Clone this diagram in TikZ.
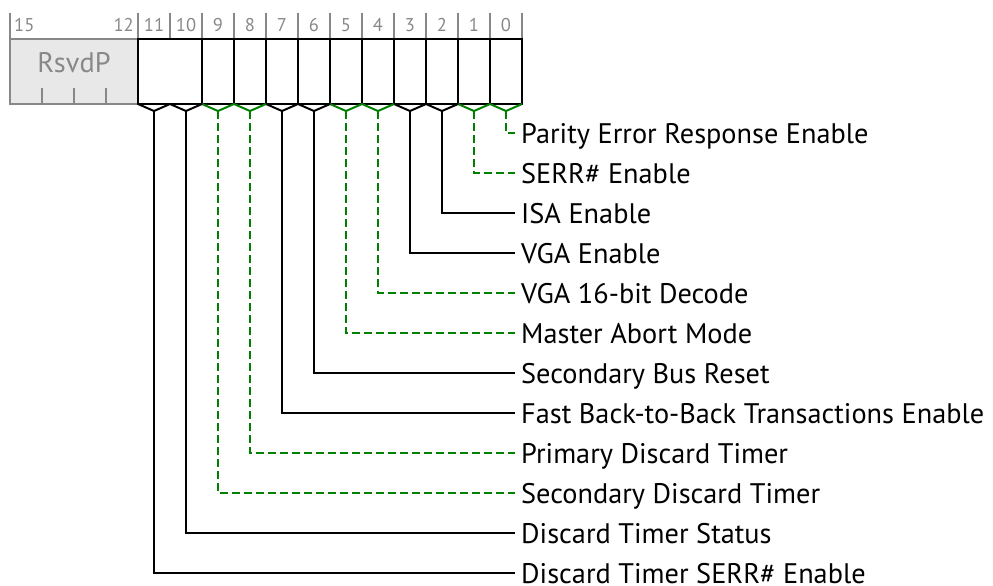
\documentclass[tikz,border=0pt]{standalone}
\usepackage{fontspec}
\setmainfont{PT Sans}
\definecolor{rgreen}{RGB}{0,128,0}
\definecolor{rgray}{RGB}{136,136,136}
\definecolor{rfill}{RGB}{232,232,232}
\begin{document}
\begin{tikzpicture}[x=1pt,y=-1pt,
  blk/.style={line width=2pt,black},
  grn/.style={line width=2pt,rgreen},
  sld/.style={solid},
  dsh/.style={dash pattern=on 8pt off 4pt},
  tick/.style={line width=1.5pt,rgray},
  lbl/.style={anchor=west,inner sep=0pt,text height=20pt,text depth=0pt,font=\fontsize{28.3}{32}\selectfont},
  bitnum/.style={inner sep=0pt,text height=13pt,text depth=0pt,text=rgray,font=\fontsize{18.5}{22}\selectfont}]
\useasboundingbox (0,0) rectangle (993,586);
% reserved field
\draw[line width=2pt,rgray,fill=rfill] (10,39) rectangle (138,104);
\node[text=rgray,inner sep=0pt,text height=20pt,text depth=0pt,font=\fontsize{28.3}{32}\selectfont] (rsvd) at (74,62) {RsvdP};
\foreach \x in {42,74,106} \draw[tick] (\x,88) -- (\x,104);
% top ticks
\foreach \x in {10,138,170,...,522} \draw[tick] (\x,13) -- (\x,39);
\node[bitnum,anchor=west] (n15) at (14,25) {15};
\node[bitnum,anchor=east] (n12) at (134,25) {12};
\foreach \b in {0,...,11} \node[bitnum] (n\b) at (506-32*\b,25) {\b};
% cells
\foreach \b in {0,...,10} \draw[blk] (522-32*\b,39) -- (522-32*\b,104);
\draw[blk] (138,39) -- (522,39) -- (522,104) -- (138,104) -- cycle;
% fields
\foreach \b/\t/\s/\d [count=\i from 0] in {
  0/{Parity Error Response Enable}/grn/dsh,
  1/{SERR\# Enable}/grn/dsh,
  2/{ISA Enable}/blk/sld,
  3/{VGA Enable}/blk/sld,
  4/{VGA 16-bit Decode}/grn/dsh,
  5/{Master Abort Mode}/grn/dsh,
  6/{Secondary Bus Reset}/blk/sld,
  7/{Fast Back-to-Back Transactions Enable}/blk/sld,
  8/{Primary Discard Timer}/grn/dsh,
  9/{Secondary Discard Timer}/grn/dsh,
  10/{Discard Timer Status}/blk/sld,
  11/{Discard Timer SERR\# Enable}/blk/sld} {
  \node[lbl] (L\b) at (521,133+40*\i) {\t};
  \coordinate (C\b) at (506-32*\b,111);
  \draw[\s,line join=miter] (522-32*\b,104) -- (C\b) -- (490-32*\b,104);
  \draw[\s,\d] (C\b) |- ([xshift=-6pt]L\b.west);
}
\end{tikzpicture}
\end{document}
